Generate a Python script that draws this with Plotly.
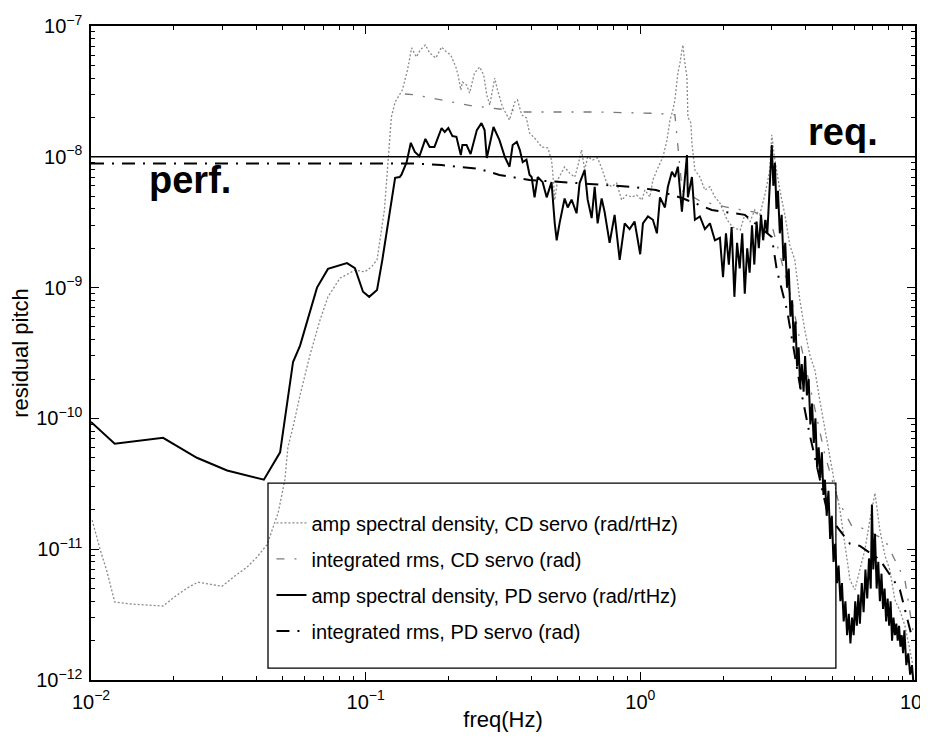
import plotly.graph_objects as go

# residual pitch spectra, CD servo vs PD servo
pd_asd_freq = [0.01, 0.0122, 0.0183, 0.0243, 0.0313, 0.0426, 0.0488, 0.0544, 0.0577, 0.0665,
               0.0729, 0.0773, 0.0855, 0.0914, 0.0978, 0.103, 0.110, 0.115, 0.128, 0.133,
               0.135, 0.141, 0.146, 0.151, 0.157, 0.165, 0.171, 0.178, 0.189, 0.194,
               0.200, 0.207, 0.214, 0.222, 0.225, 0.233, 0.241, 0.254, 0.264, 0.271,
               0.276, 0.292, 0.307, 0.321, 0.334, 0.343, 0.355, 0.364, 0.373, 0.385,
               0.395, 0.402, 0.412, 0.423, 0.441, 0.456, 0.475, 0.488, 0.496, 0.508,
               0.530, 0.544, 0.562, 0.586, 0.601, 0.627, 0.643, 0.665, 0.682, 0.699,
               0.723, 0.741, 0.773, 0.806, 0.841, 0.877, 0.914, 0.953, 0.999, 1.022,
               1.066, 1.111, 1.149, 1.179, 1.229, 1.260, 1.303, 1.336, 1.370, 1.417,
               1.478, 1.490, 1.541, 1.580, 1.648, 1.718, 1.792, 1.868, 1.949, 2.00,
               2.05, 2.10, 2.15, 2.20, 2.25, 2.30, 2.35, 2.40, 2.45, 2.50,
               2.55, 2.60, 2.65, 2.70, 2.75, 2.80, 2.85, 2.90, 2.94, 2.98,
               3.01, 3.05, 3.09, 3.13, 3.17, 3.22, 3.27, 3.32, 3.37, 3.42,
               3.47, 3.52, 3.57, 3.62, 3.67, 3.72, 3.77, 3.82, 3.87, 3.93,
               3.98, 4.04, 4.10, 4.16, 4.22, 4.28, 4.34, 4.40, 4.46, 4.52,
               4.58, 4.64, 4.70, 4.77, 4.84, 4.91, 4.98, 5.05, 5.12, 5.20,
               5.27, 5.35, 5.42, 5.50, 5.58, 5.66, 5.74, 5.82, 5.90, 5.98,
               6.06, 6.14, 6.22, 6.30, 6.40, 6.50, 6.60, 6.70, 6.80, 6.90,
               6.97, 7.05, 7.15, 7.25, 7.35, 7.45, 7.55, 7.65, 7.75, 7.85,
               7.95, 8.05, 8.15, 8.25, 8.35, 8.45, 8.55, 8.65, 8.75, 8.85,
               8.95, 9.05, 9.15, 9.30, 9.45, 9.60, 9.75, 9.85]
pd_asd = [9.4e-11, 6.4e-11, 7.1e-11, 5.0e-11, 4.0e-11, 3.4e-11, 5.5e-11, 2.7e-10, 3.6e-10, 1.0e-9,
          1.39e-9, 1.44e-9, 1.54e-9, 1.41e-9, 9.3e-10, 8.5e-10, 9.6e-10, 1.63e-9, 6.9e-9, 7.0e-9,
          7.3e-9, 9.1e-9, 1.28e-8, 1.09e-8, 1.01e-8, 1.37e-8, 1.19e-8, 1.19e-8, 1.66e-8, 1.55e-8,
          1.66e-8, 1.44e-8, 1.42e-8, 1.03e-8, 1.23e-8, 1.23e-8, 1.05e-8, 1.60e-8, 1.81e-8, 1.60e-8,
          9.8e-9, 1.69e-8, 1.34e-8, 1.0e-8, 8.4e-9, 1.23e-8, 1.30e-8, 1.13e-8, 9.1e-9, 9.5e-9,
          7.3e-9, 7.0e-9, 4.9e-9, 7.0e-9, 6.4e-9, 4.9e-9, 6.4e-9, 3.1e-9, 2.3e-9, 3.1e-9,
          4.8e-9, 4.1e-9, 4.7e-9, 3.7e-9, 6.3e-9, 7.9e-9, 4.7e-9, 3.4e-9, 5.9e-9, 3.1e-9,
          4.8e-9, 3.8e-9, 2.2e-9, 3.6e-9, 1.63e-9, 3.1e-9, 2.8e-9, 3.2e-9, 1.8e-9, 3.1e-9,
          3.5e-9, 3.3e-9, 2.6e-9, 4.9e-9, 4.1e-9, 5.9e-9, 7.7e-9, 7.0e-9, 8.4e-9, 3.8e-9,
          1.03e-8, 4.9e-9, 7.0e-9, 3.3e-9, 3.5e-9, 2.8e-9, 3.1e-9, 2.3e-9, 2.4e-9, 1.2e-9,
          2.6e-9, 1.5e-9, 2.9e-9, 8.5e-10, 2.2e-9, 1.4e-9, 2.6e-9, 9.0e-10, 2.0e-9, 1.3e-9,
          3.0e-9, 1.5e-9, 3.2e-9, 2.0e-9, 3.6e-9, 2.3e-9, 3.3e-9, 2.6e-9, 5.0e-9, 7.5e-9,
          1.23e-8, 6.0e-9, 9.0e-9, 4.0e-9, 5.5e-9, 2.6e-9, 3.6e-9, 1.6e-9, 2.2e-9, 1.0e-9,
          1.4e-9, 6.0e-10, 8.0e-10, 3.8e-10, 5.5e-10, 2.5e-10, 3.5e-10, 1.7e-10, 2.6e-10, 1.6e-10,
          3.0e-10, 1.5e-10, 2.0e-10, 9.0e-11, 1.3e-10, 6.5e-11, 1.0e-10, 4.2e-11, 6.0e-11, 3.5e-11,
          5.5e-11, 2.6e-11, 3.4e-11, 1.8e-11, 2.8e-11, 1.2e-11, 1.8e-11, 8.0e-12, 1.1e-11, 5.5e-12,
          7.5e-12, 4.0e-12, 5.5e-12, 2.8e-12, 4.0e-12, 2.2e-12, 3.2e-12, 1.9e-12, 3.0e-12, 2.2e-12,
          4.0e-12, 2.6e-12, 4.5e-12, 2.7e-12, 5.5e-12, 3.3e-12, 7.0e-12, 4.2e-12, 8.5e-12, 5.0e-12,
          2.2e-11, 7.0e-12, 1.31e-11, 5.0e-12, 8.0e-12, 4.0e-12, 6.5e-12, 3.5e-12, 5.0e-12, 2.8e-12,
          4.2e-12, 2.6e-12, 4.0e-12, 2.0e-12, 3.0e-12, 2.2e-12, 2.7e-12, 2.0e-12, 2.6e-12, 1.8e-12,
          2.2e-12, 1.6e-12, 2.4e-12, 1.3e-12, 1.6e-12, 1.1e-12, 1.3e-12, 1.0e-12]

cd_asd_freq = [0.0101, 0.0108, 0.0114, 0.0119, 0.0122, 0.0142, 0.0164, 0.0183, 0.0199, 0.0224,
               0.0245, 0.0271, 0.0300, 0.0329, 0.0370, 0.0402, 0.0437, 0.0480, 0.0508, 0.0521,
               0.0544, 0.0577, 0.0627, 0.0682, 0.0729, 0.0806, 0.0914, 0.0994, 0.105, 0.110,
               0.117, 0.120, 0.124, 0.128, 0.133, 0.136, 0.142, 0.147, 0.153, 0.158,
               0.165, 0.171, 0.180, 0.189, 0.197, 0.204, 0.213, 0.217, 0.222, 0.225,
               0.233, 0.239, 0.249, 0.260, 0.269, 0.276, 0.283, 0.295, 0.302, 0.315,
               0.334, 0.349, 0.357, 0.370, 0.385, 0.395, 0.419, 0.437, 0.460, 0.475,
               0.480, 0.488, 0.500, 0.530, 0.553, 0.577, 0.591, 0.611, 0.627, 0.643,
               0.670, 0.699, 0.723, 0.754, 0.786, 0.820, 0.855, 0.891, 0.929, 0.969,
               1.013, 1.039, 1.084, 1.111, 1.149, 1.179, 1.209, 1.250, 1.282, 1.314,
               1.336, 1.370, 1.394, 1.417, 1.429, 1.453, 1.478, 1.490, 1.528, 1.541,
               1.580, 1.648, 1.718, 1.792, 1.868, 1.949, 2.07, 2.17, 2.31, 2.40,
               2.51, 2.61, 2.72, 2.84, 2.96, 3.01, 3.09, 3.22, 3.36, 3.50,
               3.65, 3.81, 3.97, 4.14, 4.32, 4.50, 4.70, 4.90, 5.11, 5.33,
               5.56, 5.80, 6.04, 6.30, 6.57, 6.85, 7.15, 7.45, 7.77, 8.10,
               8.45, 8.81, 9.19, 9.58, 9.82]
cd_asd = [1.67e-11, 9.9e-12, 6.9e-12, 4.9e-12, 3.95e-12, 3.8e-12, 3.74e-12, 3.68e-12, 4.24e-12, 5.05e-12,
          5.6e-12, 5.4e-12, 5.2e-12, 6.1e-12, 7.3e-12, 8.7e-12, 1.08e-11, 1.89e-11, 3.4e-11, 6.0e-11,
          8.6e-11, 1.51e-10, 3.05e-10, 5.65e-10, 8.5e-10, 1.18e-9, 1.36e-9, 1.32e-9, 1.44e-9, 1.63e-9,
          3.92e-9, 7.9e-9, 2.01e-8, 2.62e-8, 2.97e-8, 3.24e-8, 4.61e-8, 6.8e-8, 5.8e-8, 6.55e-8,
          7.16e-8, 6.22e-8, 5.7e-8, 6.9e-8, 6.33e-8, 6.0e-8, 4.86e-8, 4.22e-8, 3.24e-8, 3.73e-8,
          3.54e-8, 3.07e-8, 4.37e-8, 4.86e-8, 4.22e-8, 2.97e-8, 2.49e-8, 4.0e-8, 3.24e-8, 2.4e-8,
          1.91e-8, 2.62e-8, 2.72e-8, 2.09e-8, 1.98e-8, 1.52e-8, 1.34e-8, 1.19e-8, 1.17e-8, 9.45e-9,
          7.5e-9, 4.67e-9, 6.65e-9, 8.36e-9, 7.5e-9, 7.0e-9, 8.36e-9, 1.13e-8, 7.9e-9, 1.0e-8,
          9.45e-9, 9.8e-9, 8.2e-9, 6.3e-9, 5.9e-9, 6.3e-9, 4.67e-9, 5.1e-9, 4.93e-9, 5.1e-9,
          4.67e-9, 5.57e-9, 4.93e-9, 6.65e-9, 7.9e-9, 9.0e-9, 1.0e-8, 1.34e-8, 1.91e-8, 2.28e-8,
          2.72e-8, 4.37e-8, 5.2e-8, 6.55e-8, 7.16e-8, 5.2e-8, 4.07e-8, 2.01e-8, 1.81e-8, 1.27e-8,
          7.9e-9, 7.0e-9, 5.57e-9, 5.9e-9, 4.93e-9, 4.43e-9, 3.29e-9, 2.9e-9, 2.75e-9, 3.6e-9,
          3.2e-9, 3.92e-9, 3.6e-9, 5.1e-9, 7.9e-9, 1.47e-8, 9.45e-9, 5.57e-9, 3.6e-9, 2.12e-9,
          1.63e-9, 8.0e-10, 4.74e-10, 3.05e-10, 2.34e-10, 1.38e-10, 8.15e-11, 5.25e-11, 3.1e-11, 2.0e-11,
          1.08e-11, 5.8e-12, 4.9e-12, 6.9e-12, 9.9e-12, 1.67e-11, 2.69e-11, 1.4e-11, 9.0e-12, 6.9e-12,
          4.1e-12, 3.4e-12, 2.6e-12, 1.7e-12, 1.3e-12]

pd_rms_freq = [0.01, 0.03, 0.06, 0.1, 0.15, 0.189, 0.260, 0.307, 0.395, 0.586,
               0.741, 0.938, 1.14, 1.417, 1.82, 2.40, 3.01, 3.14, 3.42, 3.59,
               3.81, 4.14, 4.43, 4.82, 5.80, 6.30, 7.45, 8.81, 9.82]
pd_rms = [8.9e-9, 8.9e-9, 8.9e-9, 8.9e-9, 8.9e-9, 8.65e-9, 8.07e-9, 7.26e-9, 6.65e-9, 6.3e-9,
          6.09e-9, 5.88e-9, 5.57e-9, 4.84e-9, 3.92e-9, 3.6e-9, 2.44e-9, 1.36e-9, 6.74e-10, 3.64e-10,
          1.8e-10, 7.46e-11, 3.89e-11, 1.83e-11, 1.1e-11, 1.06e-11, 8.3e-12, 4.9e-12, 2.0e-12]

cd_rms_freq = [0.139, 0.152, 0.197, 0.245, 0.307, 0.380, 0.708, 1.13, 1.336, 1.42,
               1.648, 2.12, 2.61, 3.01, 3.22, 3.56, 3.81, 4.21, 4.70, 5.24,
               5.89, 6.41, 7.77, 9.19, 9.82]
cd_rms = [3.02e-8, 2.97e-8, 2.67e-8, 2.45e-8, 2.32e-8, 2.2e-8, 2.2e-8, 2.15e-8, 2.1e-8, 5.5e-9,
          4.6e-9, 4.06e-9, 3.78e-9, 3.0e-9, 1.78e-9, 8.0e-10, 3.97e-10, 1.51e-10, 5.25e-11, 2.38e-11,
          1.5e-11, 1.45e-11, 1.18e-11, 5.8e-12, 2.4e-12]

REQ = 1e-8

x_ticks = [0.01, 0.1, 1, 10]
x_ticktext = ["10<sup>−2</sup>", "10<sup>−1</sup>", "10<sup>0</sup>", "10<sup>1</sup>"]
y_ticks = [1e-12, 1e-11, 1e-10, 1e-9, 1e-8, 1e-7]
y_ticktext = ["10<sup>−12</sup>", "10<sup>−11</sup>", "10<sup>−10</sup>",
              "10<sup>−9</sup>", "10<sup>−8</sup>", "10<sup>−7</sup>"]

FONT = "Liberation Sans, Arial, Helvetica, sans-serif"

fig = go.Figure()

fig.add_trace(go.Scatter(x=cd_asd_freq, y=cd_asd, mode="lines", legendgroup="a",
                         name="amp spectral density, CD servo (rad/rtHz)",
                         line=dict(color="#8a8a8a", width=1.3, dash="2px,2px")))
fig.add_trace(go.Scatter(x=cd_rms_freq, y=cd_rms, mode="lines", legendgroup="b",
                         name="integrated rms, CD servo (rad)",
                         line=dict(color="#7a7a7a", width=1.3, dash="8px,10px,2px,10px")))
fig.add_trace(go.Scatter(x=pd_asd_freq, y=pd_asd, mode="lines", legendgroup="c",
                         name="amp spectral density, PD servo (rad/rtHz)",
                         line=dict(color="black", width=2)))
fig.add_trace(go.Scatter(x=pd_rms_freq, y=pd_rms, mode="lines", legendgroup="d",
                         name="integrated rms, PD servo (rad)",
                         line=dict(color="black", width=2, dash="13px,8px,2px,8px")))

# requirement line
fig.add_hline(y=REQ, line=dict(color="black", width=1.6), layer="above")

# legend frame
fig.add_shape(type="rect", xref="paper", yref="paper", x0=0.2148, x1=0.904, y0=0.0183, y1=0.301,
              line=dict(color="black", width=1.3), layer="above")

fig.add_annotation(x=0.120, y=0.765, xref="paper", yref="paper", text="<b>perf.</b>",
                   xanchor="center", yanchor="middle", showarrow=False,
                   font=dict(family=FONT, size=38, color="black"))
fig.add_annotation(x=0.9126, y=0.838, xref="paper", yref="paper", text="<b>req.</b>",
                   xanchor="center", yanchor="middle", showarrow=False,
                   font=dict(family=FONT, size=38, color="black"))


def minor_vals(lo, hi):
    return [m * 10.0 ** e for e in range(lo, hi) for m in range(2, 10)]


axis_common = dict(
    type="log", showgrid=False, zeroline=False, automargin=False,
    showline=True, linecolor="black", linewidth=1.5, mirror="ticks",
    ticks="inside", ticklen=8, tickwidth=1.2, tickcolor="black",
    tickmode="array", ticklabeloverflow="allow", ticklabelstandoff=3,
    tickfont=dict(family=FONT, size=20, color="black"),
)

# the page body has an 8px margin, so the figure is sized to fit inside 928x741
fig.update_layout(
    width=920, height=733,
    margin=dict(l=83, r=13, t=18, b=61),
    paper_bgcolor="white", plot_bgcolor="white",
    font=dict(family=FONT, color="black"),
    xaxis=dict(axis_common, range=[-2, 1], tickvals=x_ticks, ticktext=x_ticktext,
               minor=dict(ticks="inside", ticklen=4, tickwidth=1, tickcolor="black",
                          tickvals=minor_vals(-2, 1)),
               title=dict(text="freq(Hz)", font=dict(family=FONT, size=22), standoff=0)),
    yaxis=dict(axis_common, range=[-12, -7], tickvals=y_ticks, ticktext=y_ticktext,
               minor=dict(ticks="inside", ticklen=4, tickwidth=1, tickcolor="black",
                          tickvals=minor_vals(-12, -7)),
               title=dict(text="residual pitch", font=dict(family=FONT, size=22), standoff=6)),
    legend=dict(x=0.219, y=0.270, xanchor="left", yanchor="top",
                bgcolor="rgba(0,0,0,0)", borderwidth=0,
                font=dict(family=FONT, size=20, color="black"),
                traceorder="grouped", tracegroupgap=7),
)

fig.write_html("out.html")
